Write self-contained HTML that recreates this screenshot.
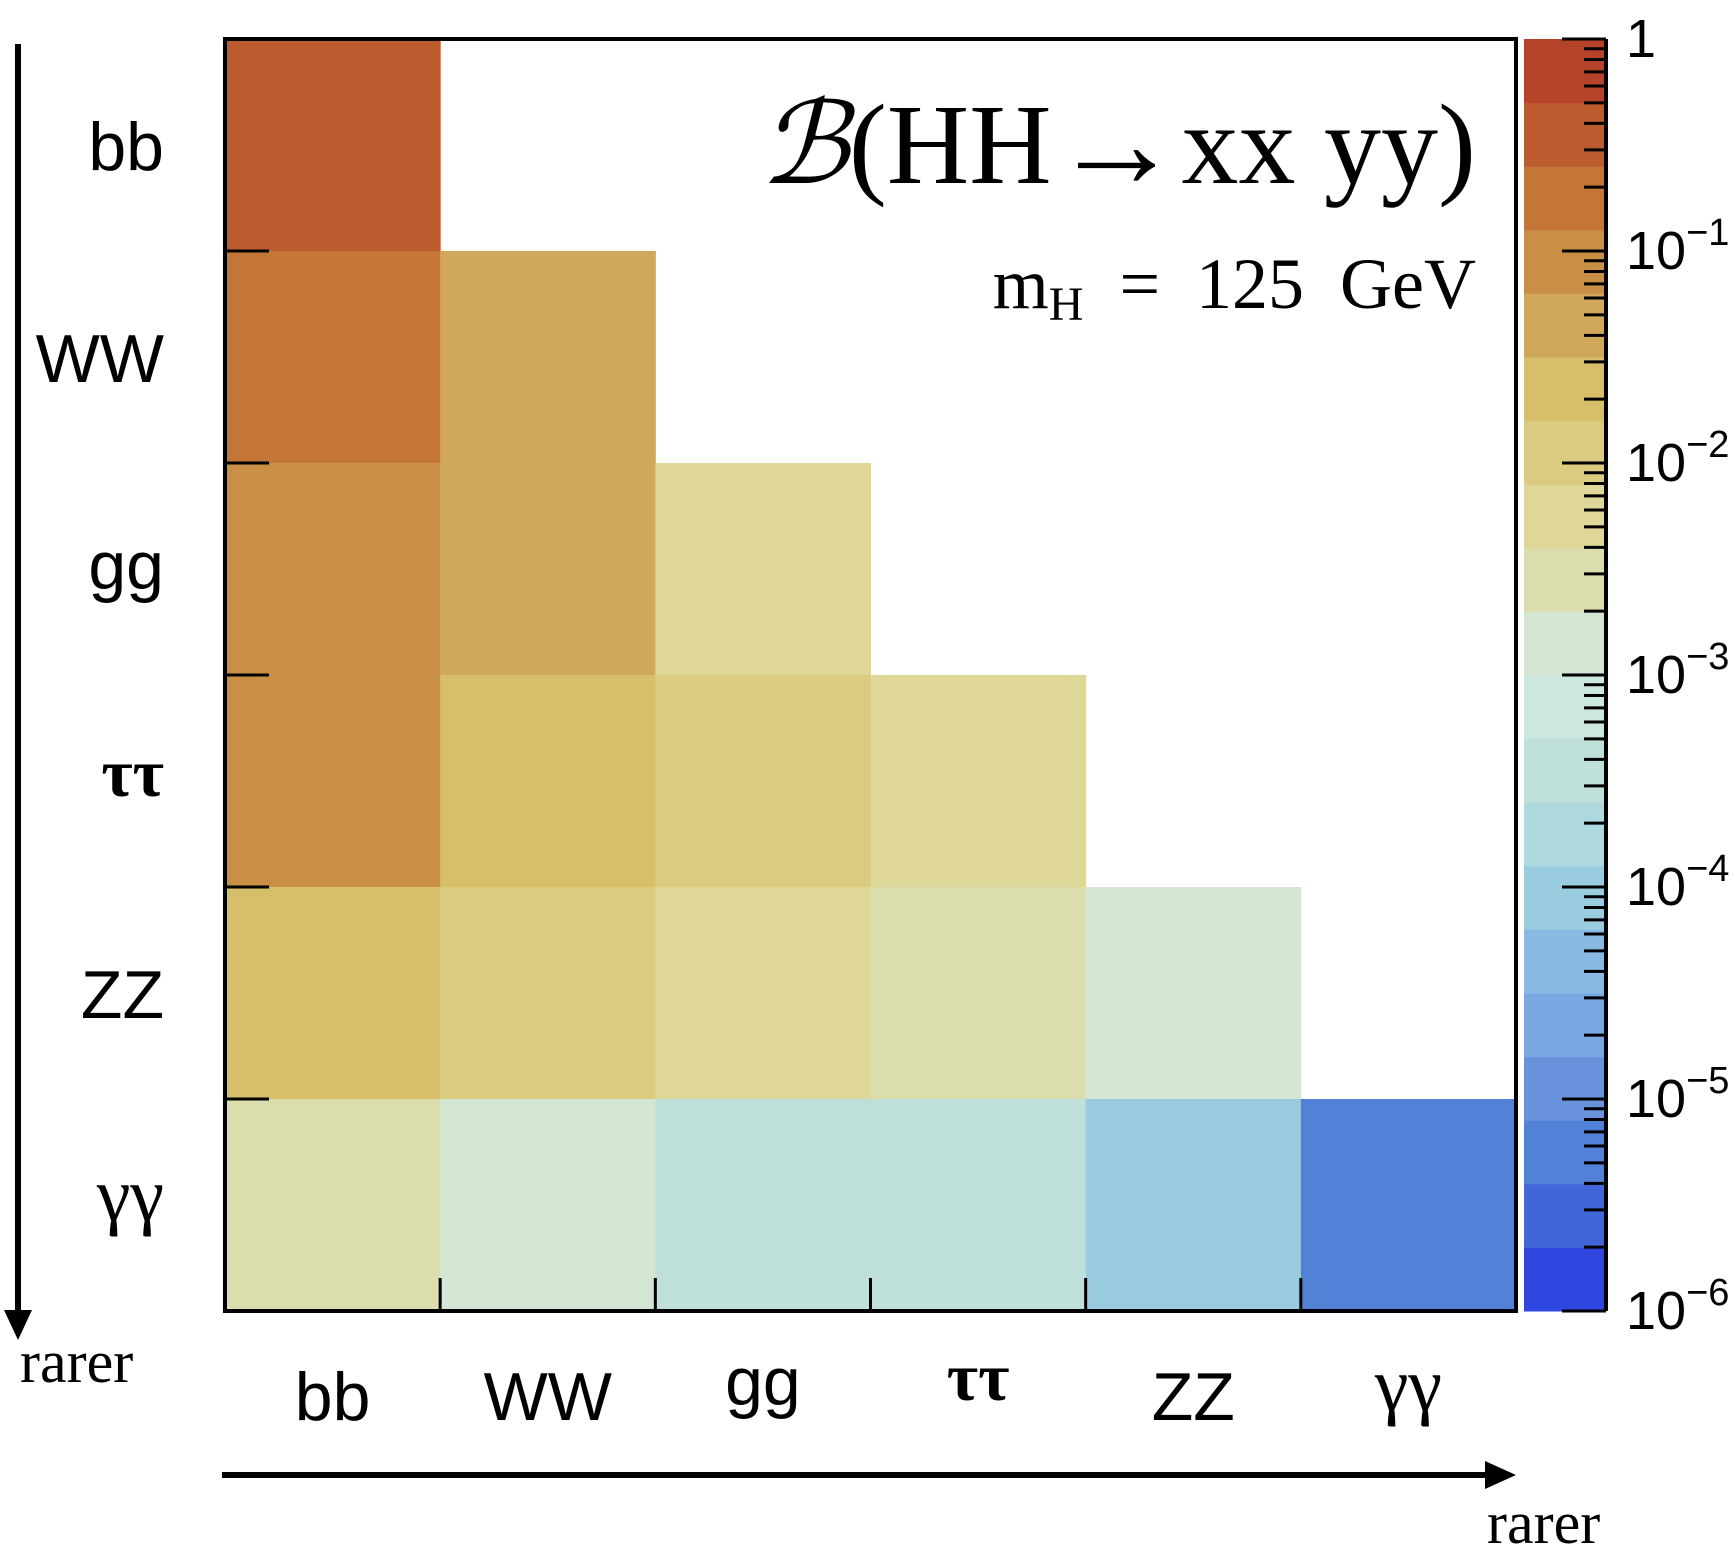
<!DOCTYPE html>
<html><head><meta charset="utf-8"><style>
html,body{margin:0;padding:0;background:#fff;}
svg{display:block;}
.sans{font-family:"Liberation Sans",sans-serif;}
.serif{font-family:"Liberation Serif","DejaVu Serif",serif;}
</style></head><body>
<svg id="chart" width="1735" height="1563" viewBox="0 0 1735 1563" xmlns="http://www.w3.org/2000/svg">
<g id="cells"></g>
<g id="frame"></g>
<g id="cbar"></g>
<g id="labels"></g>
<text class="serif" x="1476" y="183" font-size="114" text-anchor="end" fill="#000"><tspan font-family="DejaVu Serif, serif" font-style="italic">ℬ</tspan>(HH<tspan font-size="130" dy="4">→</tspan><tspan dy="-4">xx yy)</tspan></text>
<text class="serif" x="1476" y="308" font-size="72" text-anchor="end" fill="#000" xml:space="preserve">m<tspan font-size="48" dy="12">H</tspan><tspan dy="-12">  =  125  GeV</tspan></text>
<line x1="18" y1="44" x2="18" y2="1315" stroke="#000" stroke-width="6"/>
<polygon points="4,1310 32,1310 18,1340" fill="#000"/>
<text class="serif" x="20" y="1382" font-size="60" fill="#000">rarer</text>
<line x1="222" y1="1475" x2="1490" y2="1475" stroke="#000" stroke-width="6"/>
<polygon points="1485,1461 1516,1475 1485,1489" fill="#000"/>
<text class="serif" x="1487" y="1543" font-size="60" fill="#000">rarer</text>
</svg>
<script>
const categories = ["bb","WW","gg","ττ","ZZ","γγ"];
// values[row][col] for col<=row
const row_bb = [0.34];
const row_WW = [0.2, 0.046];
const row_gg = [0.09, 0.035, 0.0067];
const row_tautau = [0.073, 0.025, 0.012, 0.0045];
const row_ZZ = [0.031, 0.011, 0.0043, 0.0029, 0.0012];
const row_gamgam = [0.0026, 0.0012, 0.00037, 0.00029, 0.0001, 0.0000052];
const cbarTicks = ["1","10","10","10","10","10","10"];
const cbarExps = ["","−1","−2","−3","−4","−5","−6"];
const bandColors = ["#2F46E0","#4166D8","#5282D8","#6893DC","#79A7E2","#89BAE3","#9ACCE0","#AED9DE","#BFDFDA","#CCE8DE","#D3E6D3","#DBDDAC","#DED798","#DACB80","#D7BF6A","#D1A759","#C98F45","#C47638","#BC5C2E","#B5432A"];

const NS="http://www.w3.org/2000/svg";
const X0=225,X1=1516,Y0=39,Y1=1311,N=6;
const cw=(X1-X0)/N, ch=(Y1-Y0)/N;
const logMin=-6, logMax=0, nBands=20;
function xPos(i){return X0+i*cw;}
function yPos(j){return Y0+j*ch;}
function cbY(v){return Y1-(Math.log10(v)-logMin)/(logMax-logMin)*(Y1-Y0);}
function colorOf(v){let b=Math.floor((Math.log10(v)-logMin)/(logMax-logMin)*nBands);b=Math.max(0,Math.min(nBands-1,b));return bandColors[b];}
function mk(tag,attrs,parent){const e=document.createElementNS(NS,tag);for(const k in attrs)e.setAttribute(k,attrs[k]);parent.appendChild(e);return e;}

const rows=[row_bb,row_WW,row_gg,row_tautau,row_ZZ,row_gamgam];
const cells=document.getElementById('cells');
rows.forEach((r,j)=>r.forEach((v,i)=>{
  const e=mk('rect',{x:xPos(i),y:yPos(j),width:cw+0.5,height:ch+0.5,fill:colorOf(v)},cells);
  
  
}));

const frame=document.getElementById('frame');
const fr=mk('rect',{x:X0,y:Y0,width:X1-X0,height:Y1-Y0,fill:'none',stroke:'#000','stroke-width':4},frame);


for(let k=1;k<N;k++){
  const t=mk('line',{x1:X0,y1:yPos(k),x2:X0+44,y2:yPos(k),stroke:'#000','stroke-width':3},frame);
  
  
  const u=mk('line',{x1:xPos(k),y1:Y1,x2:xPos(k),y2:Y1-33,stroke:'#000','stroke-width':3},frame);
  
  
}

const cb=document.getElementById('cbar');
const CB0=1524,CB1=1606;
for(let b=0;b<nBands;b++){
  const yt=Y1-(b+1)*(Y1-Y0)/nBands, h=(Y1-Y0)/nBands;
  const e=mk('rect',{x:CB0,y:yt,width:CB1-CB0,height:h+0.5,fill:bandColors[b]},cb);
  
  
}
const cbl=mk('line',{x1:CB1,y1:Y0,x2:CB1,y2:Y1,stroke:'#000','stroke-width':4},cb);


for(let d=-6;d<=0;d++){
  for(let m=1;m<=9;m++){
    const v=m*Math.pow(10,d); if(v>1.0001)break;
    const y=cbY(v);
    const t=mk('line',{x1:m===1?1562:1584,y1:y,x2:CB1,y2:y,stroke:'#000','stroke-width':3},cb);
    
    
  }
}
cbarTicks.forEach((lab,k)=>{
  const y=cbY(Math.pow(10,-k))+18;
  const t=mk('text',{x:1626,y:y,'font-size':54,class:'sans',fill:'#000'},cb);
  
  
  t.textContent=lab;
  if(cbarExps[k]){const s=mk('tspan',{'font-size':38,dy:-24},t);s.textContent=cbarExps[k];}
});

const labels=document.getElementById('labels');
const yOff=[25,25,20,15,25,15];
const xBase=[1420,1420,1405,1400,1420,1410];
categories.forEach((c,k)=>{
  const isTau=(c==="ττ"), isGam=(c==="γγ");
  const greek=isTau||isGam;
  const fs=isGam?76:68;
  const a=mk('text',{x:164,y:yPos(k)+ch/2+yOff[k],'font-size':fs,'text-anchor':'end',class:greek?'serif':'sans','font-weight':isTau?'bold':'normal',fill:'#000'},labels);
  
  
  a.textContent=c;
  const b=mk('text',{x:xPos(k)+cw/2,y:xBase[k],'font-size':fs,'text-anchor':'middle',class:greek?'serif':'sans','font-weight':isTau?'bold':'normal',fill:'#000'},labels);
  
  
  b.textContent=c;
});
</script>
</body></html>
